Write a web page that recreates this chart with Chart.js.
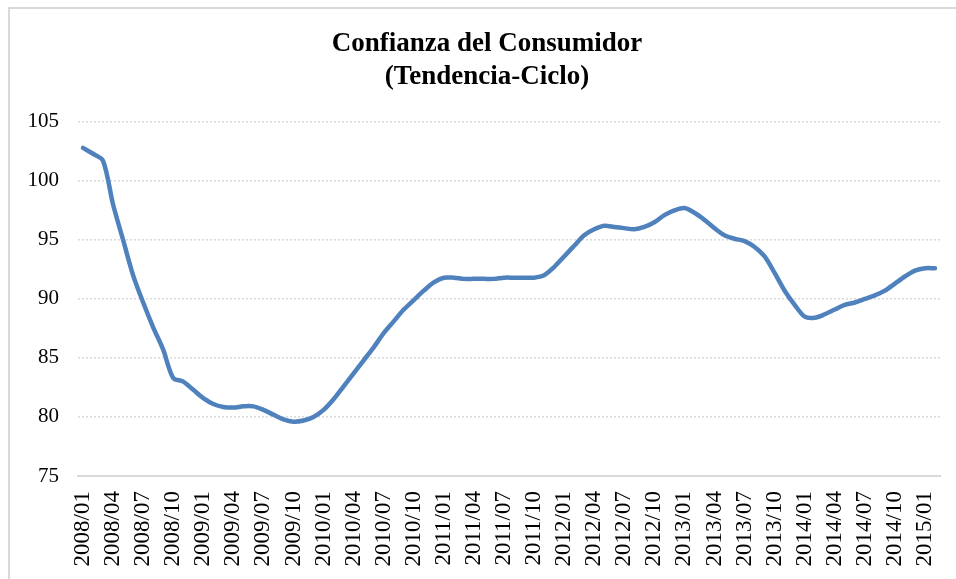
<!DOCTYPE html>
<html>
<head>
<meta charset="utf-8">
<script src="https://cdn.jsdelivr.net/npm/chart.js@4"></script>
<style>
  html, body { margin: 0; padding: 0; background: #fff; overflow: hidden; }
  #wrap { position: relative; width: 956px; height: 579px; }
  #frame { position: absolute; left: 8px; top: 7px; width: 1000px; height: 700px;
           border-left: 2px solid #d9d9d9; border-top: 2px solid #d9d9d9; pointer-events: none; }
</style>
</head>
<body>
<div id="wrap">
  <canvas id="chart" width="956" height="579"></canvas>
  <div id="frame"></div>
</div>
<script>
// meses 2008/01 - 2015/02
var years = [2008, 2009, 2010, 2011, 2012, 2013, 2014, 2015];
var months = ['01','02','03','04','05','06','07','08','09','10','11','12'];
var labels = [];
for (var y = 0; y < years.length; y++) {
	for (var m = 0; m < 12; m++) {
		if (years[y] == 2015 && m > 1) break;
		labels.push(years[y] + '/' + months[m]);
	}
}

// Confianza del Consumidor, tendencia-ciclo
var values2008 = [102.8, 102.3, 101.7, 98.0, 95.0, 92.0, 89.7, 87.6, 85.7, 83.3, 83.0, 82.3];
var values2009 = [81.6, 81.1, 80.85, 80.8, 80.9, 80.9, 80.6, 80.2, 79.8, 79.6, 79.7, 80.0];
var values2010 = [80.6, 81.5, 82.6, 83.7, 84.8, 85.9, 87.1, 88.1, 89.1, 89.9, 90.7, 91.4];
var values2011 = [91.8, 91.8, 91.7, 91.7, 91.7, 91.7, 91.8, 91.8, 91.8, 91.8, 92.0, 92.7];
var values2012 = [93.6, 94.5, 95.4, 95.9, 96.2, 96.1, 96.0, 95.9, 96.1, 96.5, 97.1, 97.5];
var values2013 = [97.7, 97.3, 96.7, 96.0, 95.4, 95.1, 94.9, 94.4, 93.6, 92.2, 90.7, 89.5];
var values2014 = [88.5, 88.4, 88.7, 89.1, 89.5, 89.7, 90.0, 90.3, 90.7, 91.3, 91.9, 92.4];
var values2015 = [92.6, 92.6];
var values = [].concat(values2008, values2009, values2010, values2011, values2012, values2013, values2014, values2015);

var yTicks = [75, 80, 85, 90, 95, 100, 105];

var serif = '"Liberation Serif", "Times New Roman", serif';

new Chart(document.getElementById('chart').getContext('2d'), {
	type: 'line',
	data: {
		labels: labels,
		datasets: [{
			label: 'Confianza del Consumidor',
			data: values,
			borderColor: '#4f81bd',
			borderWidth: 4.5,
			pointRadius: 0,
			tension: 0.3,
			borderCapStyle: 'round',
			borderJoinStyle: 'round',
			fill: false
		}]
	},
	options: {
		responsive: false,
		animation: false,
		layout: { padding: { left: 18, right: 0, top: 28, bottom: 2 } },
		plugins: {
			legend: { display: false },
			tooltip: { enabled: false },
			title: {
				display: true,
				text: ['Confianza del Consumidor', '(Tendencia-Ciclo)'],
				color: '#000',
				font: { family: serif, size: 27, weight: 'bold', lineHeight: 1.22 },
				padding: { top: 0, bottom: 28 }
			}
		},
		scales: {
			x: {
				offset: true,
				grid: { display: false },
				border: { display: true, color: '#d9d9d9', width: 2 },
				ticks: {
					autoSkip: false,
					maxRotation: 90,
					minRotation: 90,
					padding: 7,
					color: '#000',
					font: { family: serif, size: 23 },
					callback: function(val, idx) {
						return idx % 3 == 0 ? labels[idx] : '';
					}
				},
				afterFit: function(scale) {
					scale.height = 101;
					scale.paddingLeft = 0;
					scale.paddingRight = 16; // margen derecho del area del grafico
				}
			},
			y: {
				min: 75,
				max: 105,
				afterBuildTicks: function(scale) {
					scale.ticks = yTicks.map(function(v) { return { value: v }; });
				},
				grid: { color: '#d9d9d9', lineWidth: 1.5, drawTicks: false },
				border: { display: false, dash: [2, 2] },
				ticks: {
					padding: 19,
					color: '#000',
					font: { family: serif, size: 21 }
				},
				afterFit: function(scale) { scale.width = 60; }
			}
		}
	}
});
</script>
</body>
</html>
